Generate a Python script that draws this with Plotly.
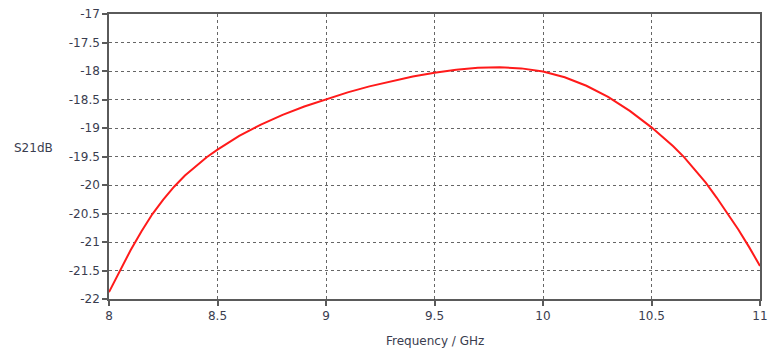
import plotly.graph_objects as go

freq_ghz = [8.0, 8.05, 8.1, 8.15, 8.2, 8.25, 8.3, 8.35, 8.4, 8.45, 8.5, 8.6, 8.7, 8.8, 8.9, 9.0,
            9.1, 9.2, 9.3, 9.4, 9.5, 9.6, 9.7, 9.8, 9.9, 10.0, 10.1, 10.2,
            10.3, 10.4, 10.5, 10.6, 10.65, 10.7, 10.75, 10.8, 10.85, 10.9, 10.95, 11.0]
s21_db = [-21.88, -21.50, -21.14, -20.81, -20.51, -20.255, -20.03, -19.835, -19.67, -19.513,
          -19.38, -19.14, -18.94, -18.77, -18.622, -18.492, -18.375, -18.27, -18.178, -18.098,
          -18.031, -17.979, -17.944, -17.934, -17.954, -18.009, -18.109, -18.259, -18.454,
          -18.699, -18.989, -19.32, -19.51, -19.73, -19.96, -20.22, -20.49, -20.78, -21.09, -21.42]

x_ticks = [8, 8.5, 9, 9.5, 10, 10.5, 11]
x_tick_labels = ["8", "8.5", "9", "9.5", "10", "10.5", "11"]
y_ticks = [-22, -21.5, -21, -20.5, -20, -19.5, -19, -18.5, -18, -17.5, -17]
y_tick_labels = ["-22", "-21.5", "-21", "-20.5", "-20", "-19.5", "-19", "-18.5", "-18", "-17.5", "-17"]

text_color = "#3a3d4f"
axis_color = "#5a5a5a"
font_family = "DejaVu Sans"

fig = go.Figure()
fig.add_trace(go.Scatter(
    x=freq_ghz, y=s21_db, mode="lines",
    line=dict(color="#ff1a1a", width=2, shape="linear"),
    showlegend=False, hoverinfo="skip",
))

axis_common = dict(
    showline=True, linecolor=axis_color, linewidth=1.5, mirror=True,
    showgrid=True, gridcolor="#666666", griddash="dot", gridwidth=1,
    ticks="outside", ticklen=5, tickwidth=1.5, tickcolor=axis_color,
    tickfont=dict(family=font_family, size=12, color=text_color),
    zeroline=False,
)

fig.update_layout(
    width=775, height=352,
    margin=dict(l=109, r=7, t=13, b=53),
    paper_bgcolor="white", plot_bgcolor="white",
    font=dict(family=font_family, size=12, color=text_color),
    xaxis=dict(range=[8, 11], tickvals=x_ticks, ticktext=x_tick_labels, **axis_common),
    yaxis=dict(range=[-22, -17], tickvals=y_ticks, ticktext=y_tick_labels, **axis_common),
    annotations=[
        dict(text="S21dB", xref="paper", yref="paper", x=-0.116, y=0.531,
             xanchor="center", yanchor="middle", showarrow=False,
             font=dict(family=font_family, size=12, color=text_color)),
        dict(text="Frequency / GHz", xref="paper", yref="paper", x=0.5, y=-0.149,
             xanchor="center", yanchor="middle", showarrow=False,
             font=dict(family=font_family, size=12, color=text_color)),
    ],
)

fig.write_html("out.html")
